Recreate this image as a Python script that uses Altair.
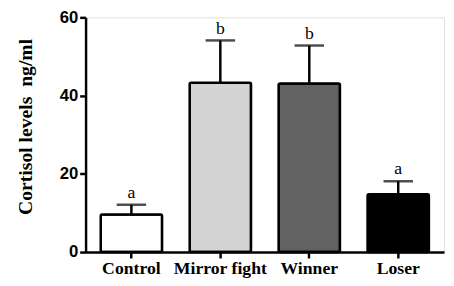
import altair as alt
import pandas as pd

groups = ["Control", "Mirror fight", "Winner", "Loser"]
means = [9.6, 43.3, 43.1, 14.8]
err_top = [12.1, 54.1, 52.8, 18.1]
letters = ["a", "b", "b", "a"]
fills = ["#ffffff", "#d3d3d3", "#626262", "#000000"]

df = pd.DataFrame({"g": groups, "m": means, "e": err_top, "l": letters, "c": fills})

x = alt.X("g:N", sort=groups, title=None,
          scale=alt.Scale(paddingInner=0.31, paddingOuter=0.17),
          axis=alt.Axis(labelAngle=0, labelFont="Liberation Serif", labelFontWeight="bold",
                        labelFontSize=18, labelColor="black", domainColor="black",
                        domainWidth=2.5, tickColor="black", tickWidth=2.5, tickSize=6,
                        labelPadding=2))
y = alt.Y("m:Q", title="Cortisol levels\u00a0\u00a0ng/ml",
          scale=alt.Scale(domain=[0, 60], nice=False),
          axis=alt.Axis(values=[0, 20, 40, 60], grid=False, labelFont="Liberation Sans",
                        labelFontWeight="bold", labelFontSize=17, labelColor="black",
                        domainColor="black", domainWidth=2.5, tickColor="black",
                        tickWidth=2.5, tickSize=6, labelPadding=2,
                        titleFont="Liberation Serif", titleFontWeight="bold",
                        titleFontSize=20, titleColor="black", titleX=-51, titleY=111,
                        titleAngle=-90))

yscale = alt.Scale(domain=[0, 60], nice=False)
base = alt.Chart(df)
stem = base.mark_rule(color="black", strokeWidth=2.5).encode(x=x, y=alt.Y("m:Q", scale=yscale), y2="e:Q")
cap = base.mark_tick(color="black", thickness=2.5, size=30, orient="horizontal").encode(x=x, y=alt.Y("e:Q", scale=yscale))
bars = base.mark_bar(stroke="black", strokeWidth=2.5, cornerRadius=1.5).encode(
    x=x, y=y, fill=alt.Fill("c:N", scale=None))
txt = base.mark_text(font="Liberation Serif", fontSize=18, color="black", dy=-12).encode(
    x=x, y=alt.Y("e:Q", scale=yscale), text="l:N")

chart = alt.layer(stem, cap, bars, txt).properties(
    width=365, height=239,
    autosize=alt.AutoSizeParams(type="none"),
    padding={"left": 79, "top": 7, "right": 2, "bottom": 31},
).configure_view(stroke=None).configure(background="white")

chart.save("out.html", embed_options={"renderer": "svg", "actions": False})
